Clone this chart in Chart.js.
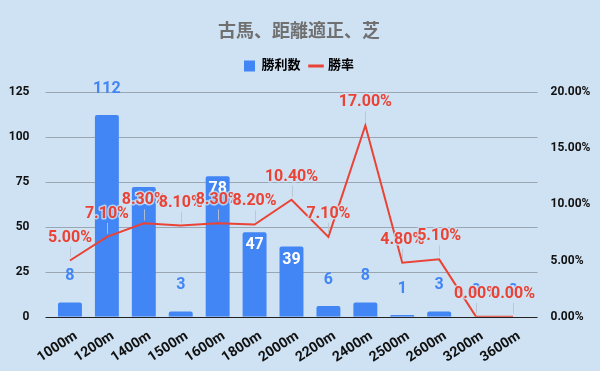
<!DOCTYPE html>
<html>
<head>
<meta charset="utf-8">
<script src="https://cdn.jsdelivr.net/npm/chart.js@4"></script>
<style>
  html, body { margin: 0; padding: 0; background: #cfe2f3; }
  #wrap { width: 600px; height: 371px; }
</style>
</head>
<body>
<div id="wrap"><canvas id="chart"></canvas></div>
<script>
const distances = ['1000m', '1200m', '1400m', '1500m', '1600m', '1800m', '2000m', '2200m', '2400m', '2500m', '2600m', '3200m', '3600m'];
const wins = [8, 112, 72, 3, 78, 47, 39, 6, 8, 1, 3, 0, 0];
const winRates = [5.0, 7.1, 8.3, 8.1, 8.3, 8.2, 10.4, 7.1, 17.0, 4.8, 5.1, 0.0, 0.0];
const leftTicks = [0, 25, 50, 75, 100, 125];
const rightTicks = [0, 5, 10, 15, 20];

const BLUE = '#4285f4';
const RED = '#ea4335';
const FONT = 'Roboto, "Noto Sans CJK JP", sans-serif';

// extra room under the legend
const legendGap = {
    id: 'legendGap',
    beforeInit(chart) {
        const fit = chart.legend.fit;
        chart.legend.fit = function () { fit.call(this); this.height += 9; };
    }
};

// gridlines run a little past the plot area, like sheets
const wideGrid = {
    id: 'wideGrid',
    beforeDatasetsDraw(chart) {
        const ctx = chart.ctx;
        const { left, right } = chart.chartArea;
        ctx.save();
        ctx.lineWidth = 1;
        leftTicks.forEach(v => {
            const y = Math.round(chart.scales.y.getPixelForValue(v)) + 0.5;
            ctx.strokeStyle = v === 0 ? '#222' : '#9aa6b2';
            ctx.beginPath();
            ctx.moveTo(left - 6, y);
            ctx.lineTo(right + 6, y);
            ctx.stroke();
        });
        ctx.restore();
    }
};

// draws the value labels like sheets does
const valueLabels = {
    id: 'valueLabels',
    afterDatasetsDraw(chart) {
        const ctx = chart.ctx;
        const zeroY = chart.scales.y.getPixelForValue(0);
        ctx.save();
        ctx.textAlign = 'center';
        ctx.textBaseline = 'middle';
        ctx.font = 'bold 16px ' + FONT;
        chart.getDatasetMeta(0).data.forEach((bar, i) => {
            const h = zeroY - bar.y;
            if (h > 40 && wins[i] < 100) {
                ctx.fillStyle = '#ffffff';
                ctx.fillText(wins[i], bar.x, bar.y + 13);
            } else {
                ctx.fillStyle = BLUE;
                ctx.fillText(wins[i], bar.x, bar.y - 26);
            }
        });
        chart.getDatasetMeta(1).data.forEach((pt, i) => {
            const ly = pt.y - 23;
            ctx.strokeStyle = 'rgba(185,196,208,0.9)';
            ctx.lineWidth = 1;
            ctx.beginPath();
            ctx.moveTo(Math.round(pt.x) + 0.5, pt.y - 3);
            ctx.lineTo(Math.round(pt.x) + 0.5, ly + 9);
            ctx.stroke();
            const txt = winRates[i].toFixed(2) + '%';
            ctx.lineWidth = 3;
            ctx.lineJoin = 'round';
            ctx.strokeStyle = 'rgba(207,226,243,0.8)';
            ctx.strokeText(txt, pt.x, ly);
            ctx.fillStyle = RED;
            ctx.fillText(txt, pt.x, ly);
        });
        ctx.restore();
    }
};

new Chart(document.getElementById('chart'), {
    data: {
        labels: distances,
        datasets: [
            { type: 'bar', label: '勝利数', data: wins, backgroundColor: BLUE, yAxisID: 'y', order: 1,
              categoryPercentage: 0.8, barPercentage: 0.81, borderRadius: 2 },
            { type: 'line', label: '勝率', data: winRates, borderColor: RED, backgroundColor: RED, yAxisID: 'y1', order: 0,
              borderWidth: 2, pointRadius: 0, tension: 0 }
        ]
    },
    options: {
        responsive: true,
        maintainAspectRatio: false,
        animation: false,
        layout: { padding: { left: 8, right: 10, top: 12, bottom: 2 } },
        plugins: {
            title: { display: true, text: '古馬、距離適正、芝', color: '#707070', font: { family: FONT, size: 18, weight: 'bold' }, padding: { top: 10, bottom: 6 } },
            legend: {
                labels: {
                    color: '#222', font: { family: FONT, size: 13, weight: 'bold' }, boxWidth: 11, boxHeight: 11,
                    usePointStyle: true, padding: 10,
                    generateLabels: (chart) => chart.data.datasets.map((ds, i) => ({
                        text: ds.label, fillStyle: ds.backgroundColor, strokeStyle: ds.backgroundColor,
                        lineWidth: i === 0 ? 0 : 3, datasetIndex: i, hidden: false,
                        pointStyle: i === 0 ? 'rect' : 'line'
                    }))
                }
            },
            tooltip: { enabled: false }
        },
        scales: {
            x: {
                grid: { display: false },
                border: { display: false },
                ticks: { color: '#111', padding: 3, labelOffset: 6, font: { family: FONT, size: 14, weight: 'bold' }, minRotation: 33, maxRotation: 33 }
            },
            y: {
                position: 'left', min: 0, max: 125,
                afterBuildTicks: (axis) => { axis.ticks = leftTicks.map(v => ({ value: v })); },
                afterFit: (axis) => { axis.width = 43.5; },
                grid: { display: false },
                border: { display: false },
                ticks: { color: '#111', padding: 14, font: { family: FONT, size: 12, weight: 'bold' } }
            },
            y1: {
                position: 'right', min: 0, max: 20,
                afterBuildTicks: (axis) => { axis.ticks = rightTicks.map(v => ({ value: v })); },
                afterFit: (axis) => { axis.width = 58.5; },
                grid: { display: false },
                border: { display: false },
                ticks: { color: '#111', padding: 11, font: { family: FONT, size: 12, weight: 'bold' }, callback: (v) => v.toFixed(2) + '%' }
            }
        }
    },
    plugins: [legendGap, wideGrid, valueLabels]
});
</script>
</body>
</html>
